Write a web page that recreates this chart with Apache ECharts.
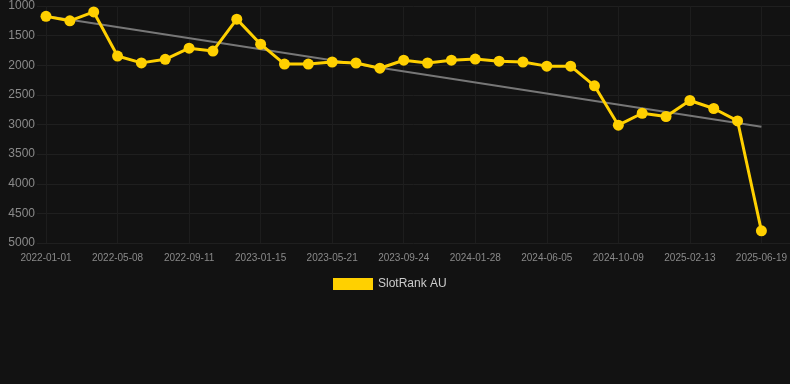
<!DOCTYPE html>
<html>
<head>
<meta charset="utf-8">
<script src="https://cdn.jsdelivr.net/npm/echarts@6/dist/echarts.min.js"></script>
<style>
html,body{margin:0;padding:0;background:#121212;}
#c{width:790px;height:384px;}
</style>
</head>
<body>
<div id="c"></div>
<script>
const categories = [
  "2022-01-01","2022-02-12","2022-03-26","2022-05-08","2022-06-19","2022-07-31",
  "2022-09-11","2022-10-23","2022-12-04","2023-01-15","2023-02-26","2023-04-09",
  "2023-05-21","2023-07-02","2023-08-13","2023-09-24","2023-11-05","2023-12-17",
  "2024-01-28","2024-03-10","2024-04-21","2024-06-05","2024-07-17","2024-08-28",
  "2024-10-09","2024-11-20","2025-01-01","2025-02-13","2025-03-27","2025-05-08",
  "2025-06-19"
];
const rankValues = [
  1175, 1250, 1100, 1845, 1960, 1900,
  1712, 1760, 1222, 1645, 1980, 1980,
  1945, 1962, 2050, 1915, 1962, 1915,
  1895, 1932, 1945, 2015, 2015, 2347,
  3012, 2810, 2865, 2595, 2730, 2940,
  4795
];
const trendStart = 1170;
const trendEnd = 3037;
const yTicks = [1000, 5000, 500]; // min, max, step
const seriesName = "SlotRank AU";

const chart = echarts.init(document.getElementById('c'), null, {renderer: 'canvas'});
chart.setOption({
  backgroundColor: '#121212',
  animation: false,
  legend: {
    data: [{name: seriesName, icon: 'rect'}],
    top: 273,
    left: 328,
    itemWidth: 40,
    itemHeight: 12,
    itemGap: 10,
    textStyle: {color: '#cccccc', fontSize: 12, fontFamily: 'Liberation Sans, Arial, sans-serif'}
  },
  grid: [
    {left: 37, right: 0, top: 6, bottom: 141, containLabel: false},
    {left: 46, right: 28, top: 6, bottom: 141, containLabel: false}
  ],
  xAxis: [
    {gridIndex: 0, type: 'value', min: 0, max: 1, show: false},
    {
      gridIndex: 1, type: 'category', data: categories, boundaryGap: false,
      axisLine: {show: false}, axisTick: {show: false},
      axisLabel: {interval: 2, color: '#8a8a8a', fontSize: 10, margin: 10,
                  fontFamily: 'Liberation Sans, Arial, sans-serif'},
      splitLine: {show: true, interval: 2, lineStyle: {color: '#1d1d1d', width: 1}}
    }
  ],
  yAxis: [
    {
      gridIndex: 0, type: 'value', inverse: true,
      min: yTicks[0], max: yTicks[1], interval: yTicks[2],
      axisLine: {show: false}, axisTick: {show: false},
      axisLabel: {color: '#8a8a8a', fontSize: 12, margin: 2,
                  formatter: function (v) { return String(v); },
                  fontFamily: 'Liberation Sans, Arial, sans-serif'},
      splitLine: {show: true, lineStyle: {color: '#1f1f1f', width: 1}}
    },
    {
      gridIndex: 1, type: 'value', inverse: true,
      min: yTicks[0], max: yTicks[1], interval: yTicks[2],
      show: false, splitLine: {show: false}
    }
  ],
  series: [
    {
      name: seriesName,
      type: 'line',
      xAxisIndex: 1, yAxisIndex: 1,
      data: rankValues,
      color: '#FFD000',
      symbol: 'circle',
      symbolSize: 11,
      lineStyle: {width: 3, color: '#FFD000'},
      itemStyle: {color: '#FFD000'},
      z: 3,
      markLine: {
        silent: true,
        symbol: ['none', 'none'],
        label: {show: false},
        lineStyle: {color: '#777777', width: 2, type: 'solid'},
        z: 2,
        data: [[
          {coord: [0, trendStart]},
          {coord: [categories.length - 1, trendEnd]}
        ]]
      }
    }
  ]
});
</script>
</body>
</html>
